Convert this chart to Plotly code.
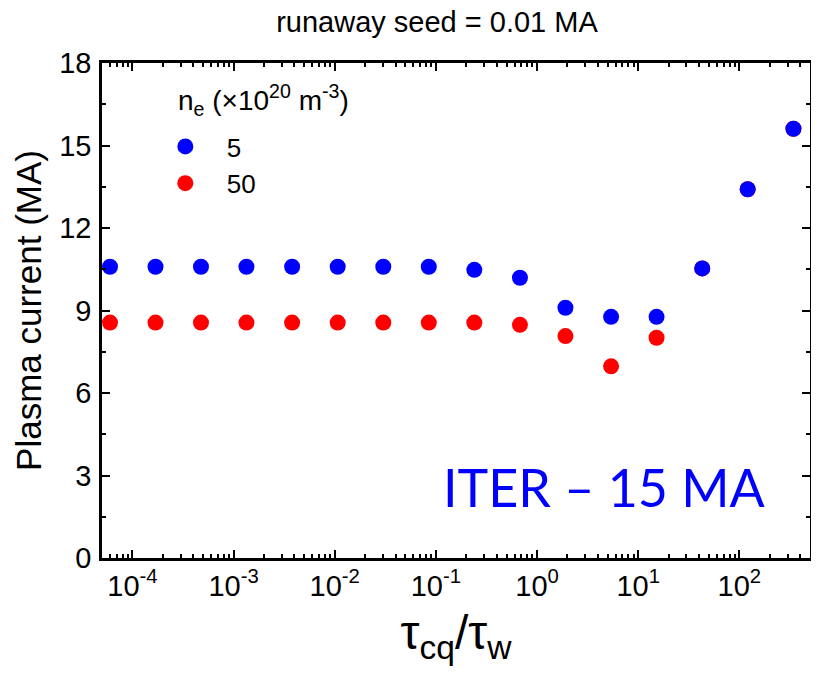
import plotly.graph_objects as go
import math

# data
ratio = [6.0e-5, 1.69e-4, 4.76e-4, 1.34e-3, 3.79e-3, 1.07e-2, 3.02e-2, 8.51e-2,
         0.240, 0.678, 1.91, 5.40, 15.2, 43.0, 121, 343]
ip_ne5 = [10.59, 10.59, 10.59, 10.59, 10.59, 10.59, 10.59, 10.59,
          10.48, 10.19, 9.10, 8.77, 8.77, 10.53, 13.41, 15.61]
ip_ne50 = [8.56, 8.56, 8.56, 8.56, 8.56, 8.56, 8.56, 8.56,
           8.56, 8.48, 8.07, 6.97, 8.01, 10.53, 13.41, 15.61]
xtick_vals = [1e-4, 1e-3, 1e-2, 1e-1, 1e0, 1e1, 1e2]
xtick_text = ["10<sup>-4</sup>", "10<sup>-3</sup>", "10<sup>-2</sup>", "10<sup>-1</sup>",
              "10<sup>0</sup>", "10<sup>1</sup>", "10<sup>2</sup>"]
ytick_vals = [0, 3, 6, 9, 12, 15, 18]

FONT = "Liberation Sans, Arial, sans-serif"

fig = go.Figure()
fig.add_trace(go.Scatter(x=ratio, y=ip_ne50, mode="markers", name="50",
                         legendgroup="b", legendrank=2,
                         marker=dict(color="#ff0000", size=16, line=dict(width=0))))
fig.add_trace(go.Scatter(x=ratio, y=ip_ne5, mode="markers", name="5",
                         legendgroup="a", legendrank=1,
                         marker=dict(color="#0000ff", size=16, line=dict(width=0))))

axis_common = dict(showline=True, linecolor="black", linewidth=2.5, mirror="allticks",
                   ticks="inside", ticklen=8, tickwidth=2, tickcolor="black",
                   showgrid=False, zeroline=False,
                   tickfont=dict(family=FONT, size=29, color="black"))

fig.update_xaxes(type="log", range=[math.log10(5e-5), math.log10(500)],
                 tickvals=xtick_vals, ticktext=xtick_text, automargin=False,
                 minor=dict(ticks="inside", ticklen=4, tickwidth=1.5, tickcolor="black",
                            dtick="D1", showgrid=False),
                 title=dict(text="τ<sub>cq</sub>/τ<sub>w</sub>",
                            font=dict(family=FONT, size=48, color="black")),
                 **axis_common)
fig.update_yaxes(range=[0, 18], tickvals=ytick_vals, ticklabelstandoff=2, automargin=True,
                 minor=dict(ticks="inside", ticklen=4, tickwidth=1.5, tickcolor="black",
                            dtick=1.5, showgrid=False),
                 title=dict(text="Plasma current (MA)", standoff=7,
                            font=dict(family=FONT, size=35, color="black")),
                 **axis_common)

fig.add_annotation(text="ITER – 15 MA", xref="paper", yref="paper",
                   x=(607 - 102) / 711, y=(558 - 487) / 495, showarrow=False,
                   xanchor="center", yanchor="middle",
                   font=dict(family="Lato, Carlito, Calibri, sans-serif", size=52, color="#0000ff"))
# legend title
fig.add_annotation(text="n<sub>e</sub> (×10<sup>20</sup> m<sup>-3</sup>)", xref="paper", yref="paper",
                   x=(176 - 102) / 711, y=(558 - 100) / 495, showarrow=False,
                   xanchor="left", yanchor="middle",
                   font=dict(family=FONT, size=28, color="black"))

fig.update_layout(
    width=811, height=670,
    margin=dict(l=94, r=6, t=55, b=120),
    plot_bgcolor="white", paper_bgcolor="white",
    font=dict(family=FONT, color="black"),
    title=dict(text="runaway seed = 0.01 MA", xref="container", yref="container",
               x=429 / 811, y=1 - 14 / 670, xanchor="center", yanchor="middle",
               font=dict(family=FONT, size=29, color="black")),
    showlegend=True,
    legend=dict(x=(144 - 102) / 711, y=(558 - 123) / 495, xanchor="left", yanchor="top",
                bgcolor="rgba(0,0,0,0)", tracegroupgap=0, itemwidth=73,
                font=dict(family=FONT, size=26, color="black")),
)

fig.write_html("out.html")
